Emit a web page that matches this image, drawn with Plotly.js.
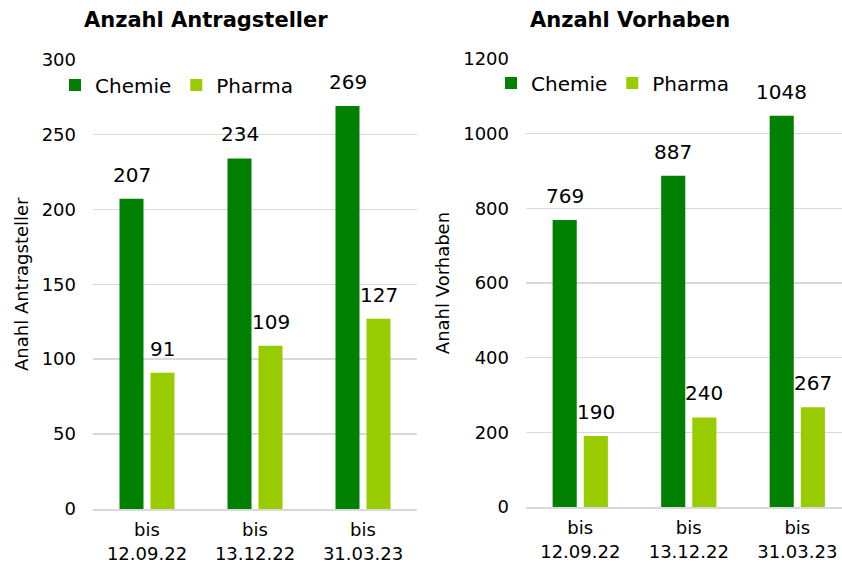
<!DOCTYPE html>
<html>
<head>
<meta charset="utf-8">
<script src="https://cdn.plot.ly/plotly-3.0.1.min.js"></script>
<style>html,body{margin:0;padding:0;background:#fff;}#chart{width:842px;height:564px;}</style>
</head>
<body>
<div id="chart"></div>
<script>
const categories = ["bis<br>12.09.22", "bis<br>13.12.22", "bis<br>31.03.23"];
const seriesNames = ["Chemie", "Pharma"];
const antragstellerChemie = [207, 234, 269];
const antragstellerPharma = [91, 109, 127];
const vorhabenChemie = [769, 887, 1048];
const vorhabenPharma = [190, 240, 267];
const leftTicks = [0, 50, 100, 150, 200, 250, 300];
const rightTicks = [0, 200, 400, 600, 800, 1000, 1200];

const W = 842, H = 564;
const colChemie = "#008000";
const colPharma = "#99CC00";
const FONT = "DejaVu Sans, Verdana, sans-serif";

function px(x) { return x / W; }
function py(y) { return 1 - y / H; }

const traces = [
  {type: "bar", name: seriesNames[0], x: categories, y: antragstellerChemie, xaxis: "x", yaxis: "y", marker: {color: colChemie}, legend: "legend", hoverinfo: "y"},
  {type: "bar", name: seriesNames[1], x: categories, y: antragstellerPharma, xaxis: "x", yaxis: "y", marker: {color: colPharma}, legend: "legend", hoverinfo: "y"},
  {type: "bar", name: seriesNames[0], x: categories, y: vorhabenChemie, xaxis: "x2", yaxis: "y2", marker: {color: colChemie}, legend: "legend2", hoverinfo: "y"},
  {type: "bar", name: seriesNames[1], x: categories, y: vorhabenPharma, xaxis: "x2", yaxis: "y2", marker: {color: colPharma}, legend: "legend2", hoverinfo: "y"}
];

const annotations = [];
traces.forEach((t, ti) => {
  const shift = (ti % 2 === 0) ? -15.5 : 15.5;
  t.y.forEach((v, i) => {
    annotations.push({
      xref: t.xaxis, yref: t.yaxis, x: t.x[i], y: v, text: String(v),
      showarrow: false, xanchor: "center", yanchor: "bottom", xshift: shift, yshift: 10,
      font: {family: FONT, size: 20, color: "#000"}
    });
  });
});
annotations.push({xref: "paper", yref: "paper", x: px(205.5), y: py(20), xanchor: "center", yanchor: "middle", showarrow: false,
  text: "<b>Anzahl Antragsteller</b>", font: {family: FONT, size: 21, color: "#000"}});
annotations.push({xref: "paper", yref: "paper", x: px(630), y: py(20), xanchor: "center", yanchor: "middle", showarrow: false,
  text: "<b>Anzahl Vorhaben</b>", font: {family: FONT, size: 21, color: "#000"}});

const axisCommon = {
  showline: false, ticks: "", tickfont: {family: FONT, size: 18, color: "#000"},
  gridcolor: "#d9d9d9", gridwidth: 1.5, zeroline: false, fixedrange: true
};

const layout = {
  width: W, height: H,
  margin: {l: 0, r: 0, t: 0, b: 0},
  paper_bgcolor: "#fff", plot_bgcolor: "#fff",
  barmode: "group", bargap: 0.426, bargroupgap: 0.226,
  font: {family: FONT, color: "#000"},
  xaxis: Object.assign({}, axisCommon, {domain: [px(93), px(417)], anchor: "y", type: "category", showgrid: false,
    showline: true, linecolor: "#d9d9d9", linewidth: 1.5, ticklabelstandoff: 4, range: [-0.5, 2.5]}),
  yaxis: Object.assign({}, axisCommon, {domain: [1 - 509/H, 1 - 59.5/H], anchor: "x", range: [0, 300], tickvals: leftTicks,
    ticklabelstandoff: 16,
    title: {text: "Anahl Antragsteller", font: {family: FONT, size: 18, color: "#000"}, standoff: 8}}),
  xaxis2: Object.assign({}, axisCommon, {domain: [px(526), 1], anchor: "y2", type: "category", showgrid: false,
    showline: true, linecolor: "#d9d9d9", linewidth: 1.5, ticklabelstandoff: 4, range: [-0.5, 2.412]}),
  yaxis2: Object.assign({}, axisCommon, {domain: [1 - 507/H, 1 - 59/H], anchor: "x2", range: [0, 1200], tickvals: rightTicks,
    ticklabelstandoff: 16,
    title: {text: "Anahl Vorhaben", font: {family: FONT, size: 18, color: "#000"}, standoff: 8}}),
  legend: {orientation: "h", x: px(55), y: py(85), xanchor: "left", yanchor: "middle", bgcolor: "rgba(0,0,0,0)",
    font: {family: FONT, size: 20, color: "#000"}, itemwidth: 30, traceorder: "normal"},
  legend2: {orientation: "h", x: px(491), y: py(83), xanchor: "left", yanchor: "middle", bgcolor: "rgba(0,0,0,0)",
    font: {family: FONT, size: 20, color: "#000"}, itemwidth: 30, traceorder: "normal"},
  annotations: annotations,
  showlegend: true
};

Plotly.newPlot("chart", traces, layout, {displayModeBar: false, staticPlot: true});
</script>
</body>
</html>
